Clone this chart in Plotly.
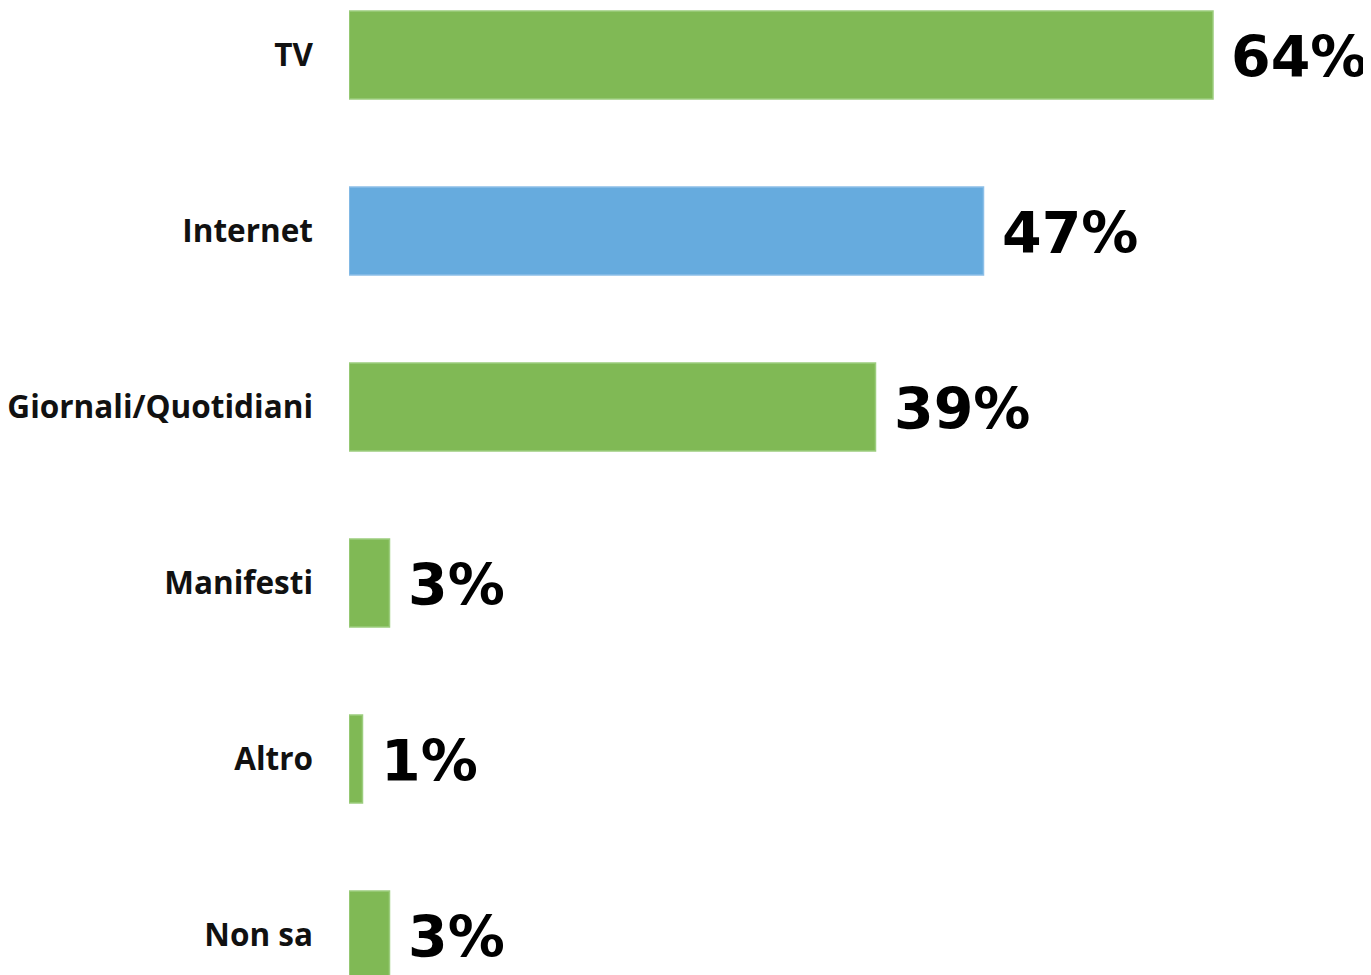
import plotly.graph_objects as go

categories = ["TV", "Internet", "Giornali/Quotidiani", "Manifesti", "Altro", "Non sa"]
values = [64, 47, 39, 3, 1, 3]
value_labels = ["64%", "47%", "39%", "3%", "1%", "3%"]
bar_colors = ["#80b955", "#66abde", "#80b955", "#80b955", "#80b955", "#80b955"]
line_colors = ["#9ccd7e", "#8cbfe8", "#9ccd7e", "#9ccd7e", "#9ccd7e", "#9ccd7e"]

fig = go.Figure()
fig.add_trace(go.Bar(
    x=values,
    y=categories,
    orientation="h",
    width=0.5,
    marker=dict(color=bar_colors, line=dict(color=line_colors, width=1.5)),
    hoverinfo="skip",
))

for cat, val, lab in zip(categories, values, value_labels):
    fig.add_annotation(
        x=val, y=cat, text=lab, showarrow=False,
        xanchor="left", yanchor="middle", xshift=16, yshift=-2,
        font=dict(family="DejaVu Sans", size=57, color="#000000", weight="bold"),
    )

fig.update_layout(
    width=1363, height=967,
    margin=dict(l=341, r=0, t=0, b=0),
    plot_bgcolor="white", paper_bgcolor="white",
    showlegend=False,
    bargap=0.5,
)
fig.update_xaxes(range=[0, 1022 / 13.5], visible=False, fixedrange=True)
fig.update_yaxes(
    categoryorder="array", categoryarray=categories,
    range=[(967 - 47) / 176, -47 / 176],
    showgrid=False, zeroline=False, showline=False, ticks="",
    ticklabelstandoff=35,
    tickfont=dict(family="Open Sans", size=31.5, color="#111111", weight="bold"),
    fixedrange=True,
)

fig.write_html("out.html")
